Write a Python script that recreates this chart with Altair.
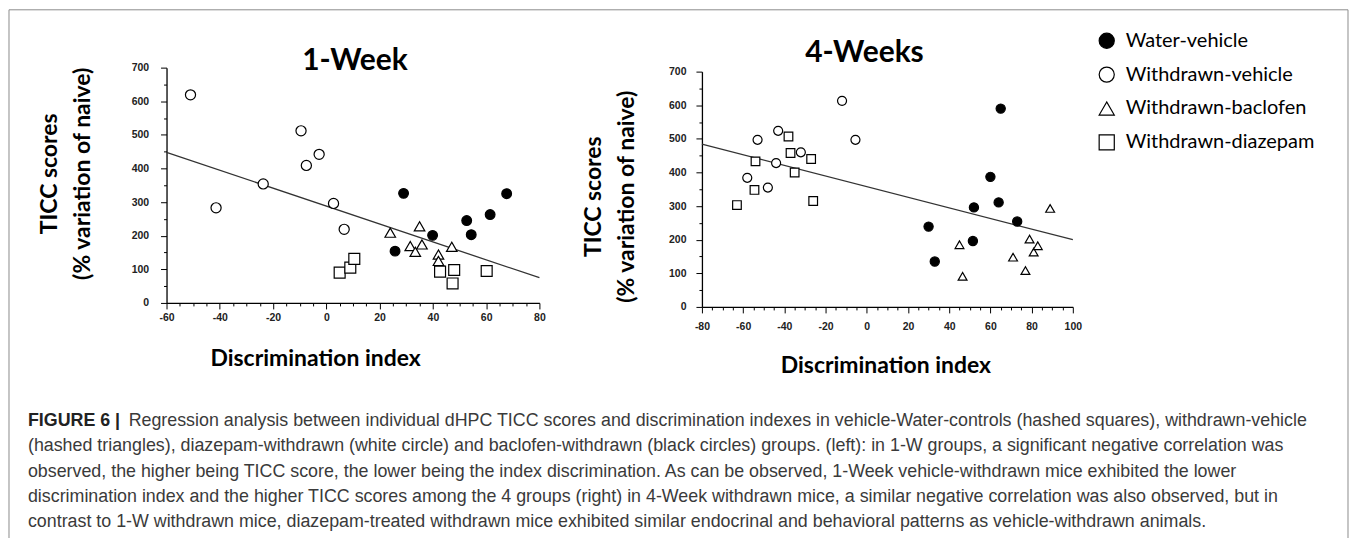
import altair as alt
import pandas as pd

GROUPS = ["Water-vehicle", "Withdrawn-vehicle", "Withdrawn-baclofen", "Withdrawn-diazepam"]

# ---- 1-Week panel values ----
w1_water_x = [25.8, 29, 39.9, 52.7, 54.4, 61.5, 67.7]
w1_water_y = [154, 326, 201, 245, 203, 263, 325]
w1_wveh_x = [-51, -41.4, -23.7, -9.5, -7.5, -2.7, 2.7, 6.7]
w1_wveh_y = [619, 283, 354, 512, 409, 442, 296, 219]
w1_bac_x = [24, 31.5, 35, 33.4, 35.9, 42.1, 42.1, 47.1]
w1_bac_y = [209, 169, 228, 152, 174, 144, 125, 167]
w1_dia_x = [5, 9, 10.5, 42.7, 48, 47.4, 60.2]
w1_dia_y = [90, 105, 131, 93, 98, 58, 95]
w1_fit_x = [-60, 80]
w1_fit_y = [448, 75]

# ---- 4-Weeks panel values ----
w4_water_x = [30, 33, 51.5, 52, 60, 64, 65, 73]
w4_water_y = [239, 135, 196, 296, 387, 311, 590, 254]
w4_wveh_x = [-58, -53, -48, -43, -44, -32, -12, -5.5]
w4_wveh_y = [384, 497, 355, 524, 428, 460, 613, 497]
w4_bac_x = [45, 46.5, 71, 77, 79, 81, 83, 89]
w4_bac_y = [185, 91, 148, 108, 202, 163, 182, 293]
w4_dia_x = [-63, -54.5, -54, -38, -37, -35, -27, -26]
w4_dia_y = [303, 348, 433, 507, 458, 400, 440, 315]
w4_fit_x = [-80, 100]
w4_fit_y = [484, 200]

PANEL_TITLES = ["1-Week", "4-Weeks"]
X_TITLE = "Discrimination index"
Y_TITLE = ["TICC scores", "(% variation of naive)"]

CAPTION_BOLD = "FIGURE 6 |"
CAPTION_LINE1 = ("Regression analysis between individual dHPC TICC scores and discrimination indexes in "
                 "vehicle-Water-controls (hashed squares), withdrawn-vehicle")
CAPTION_REST = [
    "(hashed triangles), diazepam-withdrawn (white circle) and baclofen-withdrawn (black circles) groups. "
    "(left): in 1-W groups, a significant negative correlation was",
    "observed, the higher being TICC score, the lower being the index discrimination. As can be observed, "
    "1-Week vehicle-withdrawn mice exhibited the lower",
    "discrimination index and the higher TICC scores among the 4 groups (right) in 4-Week withdrawn mice, "
    "a similar negative correlation was also observed, but in",
    "contrast to 1-W withdrawn mice, diazepam-treated withdrawn mice exhibited similar endocrinal and "
    "behavioral patterns as vehicle-withdrawn animals.",
]

TITLE_FONT = "Lato"
TICK_FONT = "Liberation Sans"
CAP_FONT = "Liberation Sans"
CAP_SIZE = 17.9

W1, W4, H = 374, 372, 236
H1 = 232
GAP = 163


def make_df(series):
    rows = []
    for g, xs, ys in series:
        for a, b in zip(xs, ys):
            rows.append({"x": a, "y": b, "group": g})
    return pd.DataFrame(rows)


df1 = make_df([(GROUPS[0], w1_water_x, w1_water_y), (GROUPS[1], w1_wveh_x, w1_wveh_y),
               (GROUPS[2], w1_bac_x, w1_bac_y), (GROUPS[3], w1_dia_x, w1_dia_y)])
df4 = make_df([(GROUPS[0], w4_water_x, w4_water_y), (GROUPS[1], w4_wveh_x, w4_wveh_y),
               (GROUPS[2], w4_bac_x, w4_bac_y), (GROUPS[3], w4_dia_x, w4_dia_y)])
fit1 = pd.DataFrame({"x": w1_fit_x, "y": w1_fit_y})
fit4 = pd.DataFrame({"x": w4_fit_x, "y": w4_fit_y})
one = pd.DataFrame({"k": [0]})

legend = alt.Legend(
    title=None, orient="none", legendX=933, legendY=-41, padding=0,
    symbolSize=230, symbolStrokeColor="black", symbolStrokeWidth=1.2,
    labelFont=TITLE_FONT, labelFontSize=20, labelColor="black", labelOffset=9, labelLimit=400,
    rowPadding=14,
)


def tick_size(step):
    return {"condition": {"test": "datum.value %% %d === 0" % step, "value": 6}, "value": 3}


def panel(df, fit, xdom, yrange, sizes, xt, yt, ylab_pad, xlab_pad):
    xaxis = alt.Axis(
        values=list(range(xdom[0], xdom[1] + 1, 5)),
        labelExpr="datum.value % 20 === 0 ? '' + datum.value : ''",
        tickSize=tick_size(20), labelFlush=False, labelOverlap=False, labelBound=False,
        labelPadding=xlab_pad, grid=False,
        title=X_TITLE, titleX=xt[0], titleY=xt[1], titleAlign="center", titleBaseline="middle",
    )
    yaxis = alt.Axis(
        values=list(range(0, 701, 50)),
        labelExpr="datum.value % 100 === 0 ? '' + datum.value : ''",
        tickSize=tick_size(100), labelOverlap=False, labelBound=False, labelFlush=False,
        labelPadding=ylab_pad, grid=False,
        title=Y_TITLE, titleX=yt[0], titleY=yt[1], titleAlign="center", titleBaseline="middle",
        titleAngle=270, titleLineHeight=33,
    )
    xs = alt.Scale(domain=list(xdom), nice=False, zero=False)
    ys = alt.Scale(domain=[0, 700], range=list(yrange), nice=False, zero=False)
    pts = alt.Chart(df).mark_point(filled=True, strokeWidth=1.2, opacity=1).encode(
        x=alt.X("x:Q", scale=xs, axis=xaxis),
        y=alt.Y("y:Q", scale=ys, axis=yaxis),
        shape=alt.Shape("group:N", scale=alt.Scale(domain=GROUPS, range=["circle", "circle", "triangle-up", "square"]), legend=legend),
        fill=alt.Fill("group:N", scale=alt.Scale(domain=GROUPS, range=["black", "white", "white", "white"]), legend=legend),
        stroke=alt.Stroke("group:N", scale=alt.Scale(domain=GROUPS, range=["black", "black", "black", "black"]), legend=legend),
        size=alt.Size("group:N", scale=alt.Scale(domain=GROUPS, range=sizes), legend=None),
    )
    line = alt.Chart(fit).mark_line(color="#333333", strokeWidth=1.3).encode(
        x=alt.X("x:Q", scale=xs, axis=xaxis), y=alt.Y("y:Q", scale=ys, axis=yaxis))
    return line, pts


l1, p1 = panel(df1, fit1, (-60, 80), (H1, H1 - H), [95, 120, 120, 120], (149, 56), (-117, 102), 12, 4)
l4, p4 = panel(df4, fit4, (-80, 100), (H, 0), [85, 75, 135, 135], (184, 59), (-109, 125), 10, 9)


def title_text(label, x, y):
    return alt.Chart(one).mark_text(align="center", baseline="alphabetic", font=TITLE_FONT, fontSize=30,
                                    fontWeight="bold", color="black").encode(
        x=alt.value(x), y=alt.value(y), text=alt.value(label))


t1 = title_text(PANEL_TITLES[0], 189, -2)
t4 = title_text(PANEL_TITLES[1], 163, -10)

# caption (inside the left panel's coordinate frame)
cap_b = alt.Chart(one).mark_text(align="left", baseline="alphabetic", font=CAP_FONT, fontSize=CAP_SIZE,
                                 fontWeight="bold", color="#222222").encode(
    x=alt.value(-139), y=alt.value(355), text=alt.value(CAPTION_BOLD))
cap_1 = alt.Chart(one).mark_text(align="left", baseline="alphabetic", font=CAP_FONT, fontSize=CAP_SIZE,
                                 color="#3a3a3a").encode(
    x=alt.value(-38), y=alt.value(355), text=alt.value(CAPTION_LINE1))
cap_r = alt.Chart(one).mark_text(align="left", baseline="alphabetic", font=CAP_FONT, fontSize=CAP_SIZE,
                                 color="#3a3a3a", lineHeight=25.3).encode(
    x=alt.value(-139), y=alt.value(381), text=alt.value(CAPTION_REST))

# figure frame, drawn from a tiny third cell
frame_x0 = -(W1 + GAP + W4 + GAP) - 158
frame = alt.Chart(one).mark_rect(fillOpacity=0, stroke="#8c8c8c", strokeWidth=1).encode(
    x=alt.value(frame_x0), x2=alt.value(frame_x0 + 1343), y=alt.value(-62), y2=alt.value(480)
).properties(width=1, height=1)

left = alt.layer(l1, p1, t1, cap_b, cap_1, cap_r).properties(width=W1, height=H1)
right = alt.layer(l4, p4, t4).properties(width=W4, height=H)

chart = alt.hconcat(left, right, frame, spacing=GAP, bounds="flush", padding=0, background="white").resolve_scale(
    shape="shared", fill="shared", stroke="shared", size="independent"
).configure_view(stroke="transparent").configure_axis(
    domainColor="black", domainWidth=1.3, tickColor="black", tickWidth=1,
    labelFont=TICK_FONT, labelFontSize=10.5, labelFontWeight="bold", labelColor="#222222",
    titleFont=TITLE_FONT, titleFontSize=23, titleFontWeight="bold", titleColor="black",
)

chart.save("out.html", embed_options={"renderer": "svg", "actions": False})
